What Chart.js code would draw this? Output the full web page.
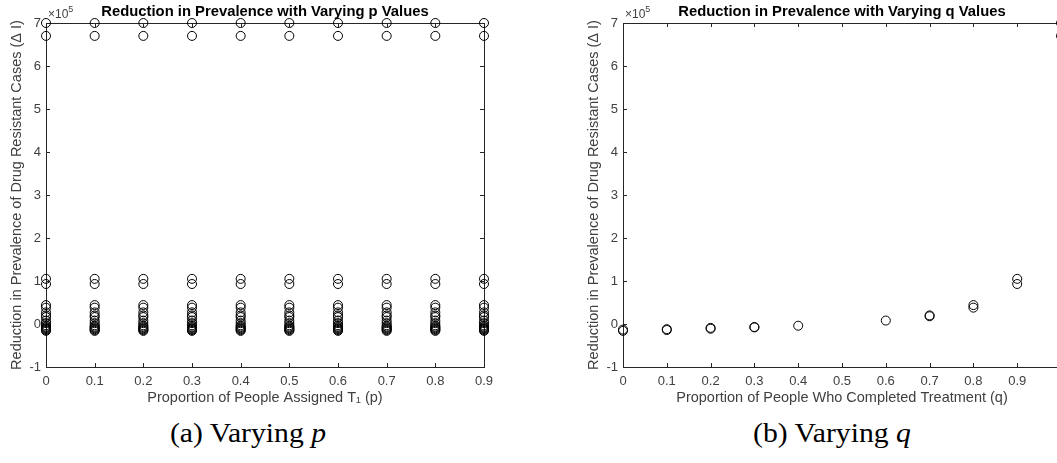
<!DOCTYPE html>
<html>
<head>
<meta charset="utf-8">
<style>
  html, body { margin: 0; padding: 0; background: #fff; }
  body { width: 1057px; height: 463px; overflow: hidden; position: relative; }
  .panel { position: absolute; top: 0; width: 530px; height: 410px; }
  .caption { position: absolute; top: 417px; width: 300px; text-align: center; white-space: nowrap;
             font-family: "Liberation Serif", "DejaVu Serif", serif; font-size: 27px; line-height: 32px; color: #000;
             transform: scaleX(1.1); }
</style>
</head>
<body>
<div class="panel" style="left:0px"><canvas id="chartP"></canvas></div>
<div class="panel" style="left:577px"><canvas id="chartQ"></canvas></div>
<div class="caption" style="left:98px">(a) Varying <i>p</i></div>
<div class="caption" style="left:682px">(b) Varying <i>q</i></div>

<script src="https://cdn.jsdelivr.net/npm/chart.js"></script>
<script>
// values are in units of 10^5 cases
const pTicks = [0, 0.1, 0.2, 0.3, 0.4, 0.5, 0.6, 0.7, 0.8, 0.9];
const pTickLabels = ['0', '0.1', '0.2', '0.3', '0.4', '0.5', '0.6', '0.7', '0.8', '0.9'];
const qTicks = [0, 0.1, 0.2, 0.3, 0.4, 0.5, 0.6, 0.7, 0.8, 0.9, 1];
const qTickLabels = ['0', '0.1', '0.2', '0.3', '0.4', '0.5', '0.6', '0.7', '0.8', '0.9', '1'];
const yTicks = [-1, 0, 1, 2, 3, 4, 5, 6, 7];
const yTickLabels = ['-1', '0', '1', '2', '3', '4', '5', '6', '7'];

// same spread of outcomes shows up at every p
const pValues = [0, 0.1, 0.2, 0.3, 0.4, 0.5, 0.6, 0.7, 0.8, 0.9];
const reductionAtEachP = [7.00, 6.70, 1.05, 0.93, 0.44, 0.38, 0.27, 0.20, 0.16, 0.08, 0.02,
                          -0.03, -0.06, -0.08, -0.10, -0.12, -0.14, -0.16];

// q sweep
const qValues    = [0, 0, 0.1, 0.1, 0.2, 0.2, 0.3, 0.3, 0.4, 0.6, 0.7, 0.7, 0.8, 0.8, 0.9, 0.9, 1, 1];
const reductionQ = [-0.16, -0.13, -0.14, -0.12, -0.11, -0.09, -0.08, -0.07, -0.04, 0.08, 0.18, 0.20, 0.38, 0.44, 0.93, 1.05, 6.70, 7.00];

const axisColor = '#262626';
const tickColor = '#404040';
const fam = '"Liberation Sans", Arial, Helvetica, sans-serif';
const tickFont = { family: fam, size: 13 };
const labelFont = { family: fam, size: 14.5 };

// matlab style box with inward ticks, the title and the x10^5 note
const boxPlugin = {
  id: 'box',
  beforeDatasetsDraw(chart, args, opts) {
    const { ctx, chartArea: a, scales } = chart;
    ctx.save();
    ctx.strokeStyle = axisColor;
    ctx.lineWidth = 1;
    ctx.strokeRect(a.left + 0.5, a.top + 0.5, a.right - a.left, a.bottom - a.top);
    ctx.beginPath();
    scales.x.ticks.forEach(t => {
      const x = Math.round(scales.x.getPixelForValue(t.value)) + 0.5;
      ctx.moveTo(x, a.bottom); ctx.lineTo(x, a.bottom - 4);
      ctx.moveTo(x, a.top); ctx.lineTo(x, a.top + 4);
    });
    scales.y.ticks.forEach(t => {
      const y = Math.round(scales.y.getPixelForValue(t.value)) + 0.5;
      ctx.moveTo(a.left, y); ctx.lineTo(a.left + 4, y);
      ctx.moveTo(a.right, y); ctx.lineTo(a.right - 4, y);
    });
    ctx.stroke();
    // title centred over the axes
    ctx.fillStyle = '#000';
    ctx.font = 'bold 14.8px ' + fam;
    ctx.textAlign = 'center';
    ctx.textBaseline = 'alphabetic';
    ctx.fillText(opts.text, (a.left + a.right) / 2, a.top - 7);
    // x10^5
    ctx.textAlign = 'left';
    ctx.fillStyle = tickColor;
    ctx.font = '12px ' + fam;
    ctx.fillText('\u00d710', a.left + 2, a.top - 5);
    const w = ctx.measureText('\u00d710').width;
    ctx.font = '9px ' + fam;
    ctx.fillText('5', a.left + 2 + w, a.top - 11);
    ctx.restore();
  }
};

function makeChart(id, points, xTicks, xTickLabels, xMax, titleText, xTitle) {
  return new Chart(document.getElementById(id), {
    type: 'scatter',
    data: {
      datasets: [{
        data: points,
        pointStyle: 'circle',
        pointRadius: 4.5,
        pointHoverRadius: 4.5,
        borderColor: '#000',
        borderWidth: 1,
        backgroundColor: 'rgba(0,0,0,0)',
        clip: false
      }]
    },
    options: {
      responsive: true,
      maintainAspectRatio: false,
      animation: false,
      layout: { padding: { top: 23, right: 46, bottom: 0, left: 0 } },
      plugins: {
        legend: { display: false },
        tooltip: { enabled: false },
        title: { display: false },
        box: { text: titleText }
      },
      scales: {
        x: {
          type: 'linear', min: 0, max: xMax,
          afterBuildTicks: s => { s.ticks = xTicks.map(v => ({ value: v })); },
          afterFit: s => { s.height = 43; },
          grid: { display: false, drawTicks: false },
          border: { display: false },
          ticks: { color: tickColor, font: tickFont, padding: 7, maxRotation: 0, autoSkip: false,
                   callback: (v, i) => xTickLabels[i] },
          title: { display: true, text: xTitle, color: tickColor, font: labelFont, padding: { top: 0, bottom: 3 } }
        },
        y: {
          type: 'linear', min: -1, max: 7,
          afterBuildTicks: s => { s.ticks = yTicks.map(v => ({ value: v })); },
          afterFit: s => { s.width = 46; },
          grid: { display: false, drawTicks: false },
          border: { display: false },
          ticks: { color: tickColor, font: tickFont, padding: 5, autoSkip: false,
                   callback: (v, i) => yTickLabels[i] },
          title: { display: true, text: 'Reduction in Prevalence of Drug Resistant Cases (\u0394 I)',
                   color: tickColor, font: labelFont, padding: { top: 8, bottom: 0 } }
        }
      }
    },
    plugins: [boxPlugin]
  });
}

const pPoints = [];
pValues.forEach(p => reductionAtEachP.forEach(r => pPoints.push({ x: p, y: r })));
const qPoints = qValues.map((q, i) => ({ x: q, y: reductionQ[i] }));

makeChart('chartP', pPoints, pTicks, pTickLabels, 0.9,
  'Reduction in Prevalence with Varying p Values', 'Proportion of People Assigned T\u2081 (p)');
makeChart('chartQ', qPoints, qTicks, qTickLabels, 1,
  'Reduction in Prevalence with Varying q Values', 'Proportion of People Who Completed Treatment (q)');
</script>
</body>
</html>
